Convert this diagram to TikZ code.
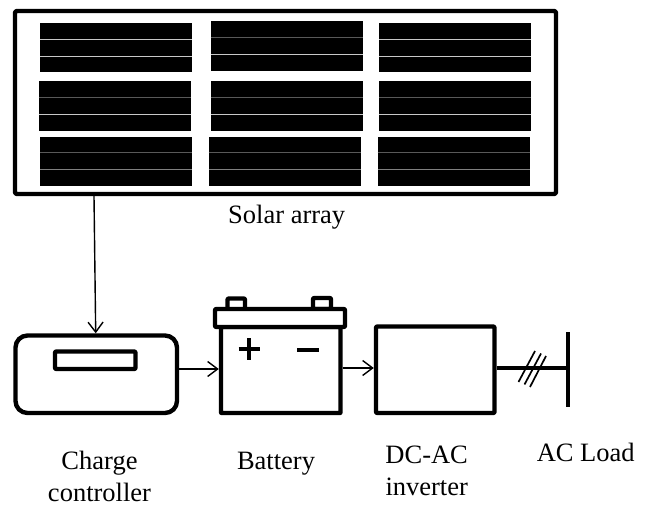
\documentclass[tikz,border=0pt]{standalone}
\usepackage{fontspec}
\setmainfont{Liberation Serif}
\usetikzlibrary{arrows.meta}
\colorlet{seamlight}{black!22}
\colorlet{seammid}{black!50}
\colorlet{seamdark}{black!65}
\tikzset{
  box/.style={draw=black,line width=4.4pt,rectangle,inner sep=0pt,fill=white,line join=round},
  frame/.style={box,rounded corners=1.5pt},
  seam/.style={line width=.9pt},
  flow/.style={draw=black,line width=1.4pt,-{Straight Barb[length=10pt,width=15pt,line width=1.4pt]}},
  label/.style={font=\fontsize{26.5}{32}\selectfont,align=center,inner sep=0pt,anchor=base},
  sign/.style={line width=3.9pt},
  tick/.style={line width=1.7pt},
}
\newcommand{\solarcell}[4]{% x, y of top left, upper and lower seam colour
  \fill[black] (#1,#2) rectangle ++(152,49.3);
  \draw[seam,#3] (#1,#2+16.2) -- ++(152,0);
  \draw[seam,#4] (#1,#2+33) -- ++(152,0);
}
\begin{document}
\begin{tikzpicture}[x=1pt,y=-1pt]
\useasboundingbox (0,0) rectangle (647,508);
% solar array
\node[frame,minimum width=541pt,minimum height=183pt,anchor=center] (array) at (285.5,102.5) {};
\solarcell{40}{23}{seamlight}{seamlight}
\solarcell{210.5}{21.5}{seamdark}{seamlight}
\solarcell{379}{23}{seamlight}{seamlight}
\solarcell{38.5}{81.5}{seamdark}{seamlight}
\solarcell{210.5}{81.5}{seamdark}{seamlight}
\solarcell{379}{81.5}{seamdark}{seamlight}
\solarcell{40}{136.7}{seamdark}{seammid}
\solarcell{208.5}{136.7}{seamdark}{seammid}
\solarcell{377.5}{136.7}{seamdark}{seammid}
\node[label] (arraylabel) at (286.7,223) {Solar array};
% charge controller
\node[box,rounded corners=12pt,minimum width=161.5pt,minimum height=77.5pt] (charge) at (96.25,374.25) {};
\node[box,rounded corners=1pt,minimum width=80.5pt,minimum height=17.5pt] (display) at (95.25,360.25) {};
% battery
\node[box,rounded corners=1pt,minimum width=17.5pt,minimum height=11pt] (termL) at (236.25,304) {};
\node[box,rounded corners=1pt,minimum width=18pt,minimum height=11pt] (termR) at (322,303.5) {};
\node[box,rounded corners=.5pt,minimum width=119.5pt,minimum height=86pt] (battery) at (280.75,370) {};
\node[box,rounded corners=1pt,minimum width=130pt,minimum height=18pt] (lid) at (280,318) {};
\draw[sign] (238.5,349) -- (260,349) (249.3,338) -- (249.3,360);
\draw[sign] (297,350) -- (318.5,350);
% inverter
\node[box,rounded corners=1pt,minimum width=118.5pt,minimum height=86.5pt] (inverter) at (435.25,369.75) {};
% load
\coordinate (loadtop) at (568,332);
\coordinate (loadbot) at (568,407);
\draw[line width=4pt] (loadtop) -- (loadbot);
\coordinate (loadin) at (568,368);
% connectors
\draw[flow] (array.south -| 94,0) -- (charge.north -| 95.7,0);
\draw[flow] ([yshift=5.25pt]charge.east) -- ([yshift=1pt]battery.west);
\draw[flow] ([yshift=2pt]battery.east) -- ([yshift=1.75pt]inverter.west);
\draw[line width=3.4pt] ([yshift=1.75pt]inverter.east) -- (loadin);
\draw[tick] (518.5,382) -- (535,351);
\draw[tick] (524.5,384.5) -- (541,353.5);
\draw[tick] (530,387) -- (546,356);
% labels
\node[label] (chargelabel) at (99.5,469.7) {\begin{tabular}[t]{@{}c@{}}Charge\\controller\end{tabular}};
\node[label] (batterylabel) at (276,469) {Battery};
\node[label] (inverterlabel) at (426.7,463) {\begin{tabular}[t]{@{}c@{}}DC-AC\\inverter\end{tabular}};
\node[label] (loadlabel) at (585.7,461.7) {AC Load};
\end{tikzpicture}
\end{document}
